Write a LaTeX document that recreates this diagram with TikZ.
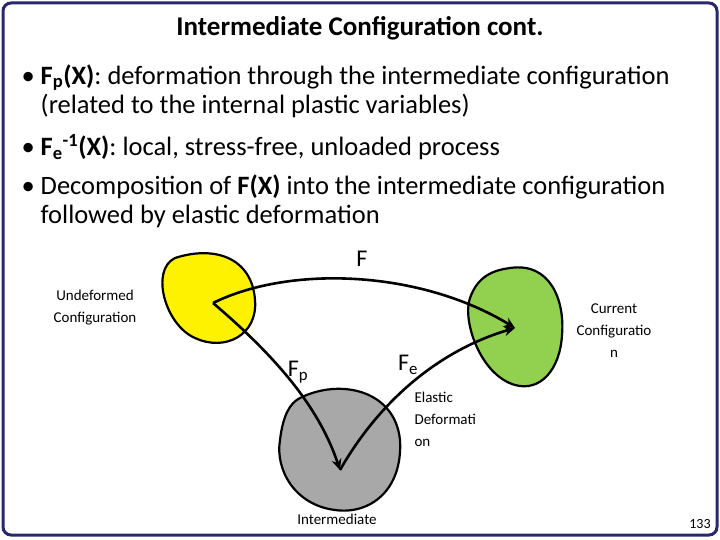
\documentclass[tikz,border=0pt]{standalone}
\usepackage{fontspec}
\setmainfont{Carlito}
\usetikzlibrary{arrows.meta}
\begin{document}
\begin{tikzpicture}[x=1pt,y=-1pt,
  blob/.style={draw=black,line width=2.2pt},
  arr/.style={line width=2.6pt,-{Stealth[length=11pt,width=10pt]}},
  lbl/.style={font=\fontsize{15}{22}\selectfont,align=center},
  body/.style={font=\fontsize{26.5}{29}\selectfont,anchor=west,align=left}]
\useasboundingbox (0,0) rectangle (720,540);
\fill[white] (0,0) rectangle (720,540);
\begin{scope}
\clip[rounded corners=8pt] (3,3) rectangle (717,535);
\draw[blob,fill=yellow] (175,258) .. controls (215,245) and (252,258) .. (255,300) .. controls (258,335) and (225,352) .. (195,338) .. controls (165,325) and (150,270) .. (175,258) -- cycle;
\draw[blob,fill={rgb,255:red,146;green,208;blue,80}] (510,268) .. controls (550,262) and (565,300) .. (562,335) .. controls (560,370) and (540,392) .. (515,385) .. controls (480,375) and (462,320) .. (470,298) .. controls (478,275) and (495,270) .. (510,268) -- cycle;
\draw[blob,fill={rgb,255:red,168;green,168;blue,168}] (300,398) .. controls (340,378) and (395,390) .. (400,440) .. controls (403,490) and (370,515) .. (335,510) .. controls (295,505) and (275,470) .. (280,440) .. controls (283,415) and (290,403) .. (300,398) -- cycle;
\node[lbl] (cur) at (614,331) {Current\\Configuratio\\n};
\node[lbl,align=left,anchor=west] (el) at (411,419) {Elastic\\Deformati\\on};
\node[lbl,anchor=north] (int) at (337,511) {Intermediate\\Configuration};
\end{scope}
\draw[line width=3pt,color={rgb,255:red,40;green,40;blue,110},rounded corners=8pt] (3,3) rectangle (717,535);
\coordinate (A) at (213,303);
\coordinate (B) at (515,328);
\coordinate (C) at (340,470);
\draw[arr] (A) .. controls (290,265) and (420,270) .. (B);
\draw[arr] (A) .. controls (280,360) and (320,410) .. (C);
\draw[arr] (C) .. controls (380,400) and (440,350) .. (B);
\node[font=\fontsize{24}{24}\selectfont] (F) at (362,259) {F};
\node[font=\fontsize{24}{24}\selectfont] (Fp) at (298,372) {F$_{\mathrm p}$};
\node[font=\fontsize{24}{24}\selectfont] (Fe) at (408,365) {F$_{\mathrm e}$};
\node[lbl] (und) at (95,308) {Undeformed\\Configuration};
\node[font=\fontsize{14}{14}\selectfont] (pg) at (700,524) {133};
\node[font=\bfseries\fontsize{27}{29}\selectfont] (title) at (360,28) {Intermediate Configuration cont.};
\node[body] (b1) at (18,91) {•\ \textbf{F$_{\mathbf p}$(X)}: deformation through the intermediate configuration\\\phantom{•\ }(related to the internal plastic variables)};
\node[body] (b2) at (18,147) {•\ \textbf{F$_{\mathbf e}$\textsuperscript{-1}(X)}: local, stress-free, unloaded process};
\node[body] (b3) at (18,201) {•\ Decomposition of \textbf{F(X)} into the intermediate configuration\\\phantom{•\ }followed by elastic deformation};
\end{tikzpicture}
\end{document}
